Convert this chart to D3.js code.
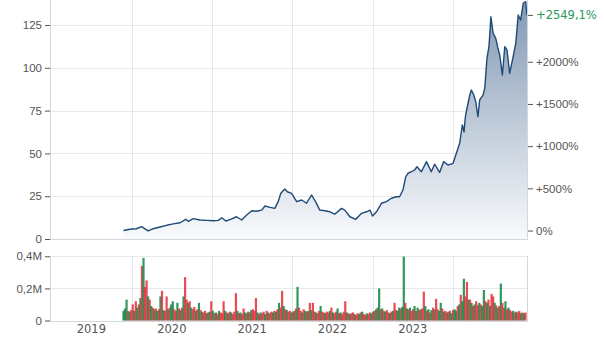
<!DOCTYPE html>
<html>
<head>
<style>
body {margin: 0; font-family: "DejaVu Sans", Verdana, sans-serif; background: #fff;}
text {font-size: 11.5px; fill: #555;}
</style>
<script src="https://cdnjs.cloudflare.com/ajax/libs/d3/7.8.5/d3.min.js"></script>
</head>
<body>
<div id="chart"></div>
<script>
    // price (EUR)
    const dates = ["2019-11-25","2019-12-24","2020-01-23","2020-02-15","2020-03-16","2020-04-08","2020-05-09","2020-06-08",
        "2020-07-08","2020-08-08","2020-09-03","2020-09-15","2020-10-07","2020-11-07","2020-12-07","2021-01-06",
        "2021-01-29","2021-02-14","2021-03-04","2021-03-23","2021-04-22","2021-05-15","2021-06-07","2021-06-30",
        "2021-07-22","2021-08-14","2021-08-29","2021-09-21","2021-10-13","2021-10-28","2021-11-09","2021-11-27",
        "2021-12-09","2021-12-28","2022-01-20","2022-02-12","2022-03-06","2022-03-29","2022-04-16","2022-05-05",
        "2022-05-28","2022-06-20","2022-07-12","2022-08-12","2022-08-27","2022-09-19","2022-10-16","2022-11-11",
        "2022-12-04","2022-12-19","2022-12-31","2023-01-18","2023-02-10","2023-03-04","2023-03-27","2023-04-18",
        "2023-05-03","2023-05-18","2023-05-31","2023-06-10","2023-06-26","2023-07-10","2023-07-21","2023-08-10",
        "2023-09-02","2023-09-24","2023-10-09","2023-11-01","2023-11-19","2023-12-09","2024-01-01","2024-01-16",
        "2024-01-31","2024-02-12","2024-02-20","2024-02-23","2024-02-27","2024-03-09","2024-03-17","2024-03-24",
        "2024-04-04","2024-04-13","2024-04-23","2024-05-01","2024-05-16","2024-05-24","2024-06-03","2024-06-12",
        "2024-06-21","2024-07-01","2024-07-13","2024-07-23","2024-07-31","2024-08-12","2024-08-23","2024-09-02",
        "2024-09-14","2024-09-27","2024-10-12","2024-10-23","2024-11-03","2024-11-15","2024-11-26","2024-12-02"];
    const prices = [4.93, 5.7, 6.0, 7.2, 4.7, 6.0, 7.0, 8.0,
        8.8, 9.5, 11.5, 10.3, 11.9, 11.1, 10.9, 10.7,
        10.9, 12.4, 10.5, 11.3, 13.0, 11.1, 14.0, 16.5,
        16.2, 16.9, 19.3, 18.5, 17.9, 21.8, 26.7, 29.2,
        27.6, 26.7, 21.8, 22.8, 20.9, 25.7, 21.8, 16.9,
        16.5, 15.9, 14.5, 17.9, 16.9, 13.0, 11.5, 15.0,
        15.9, 16.9, 13.4, 15.9, 20.9, 21.8, 23.8, 24.7,
        24.7, 28.6, 36.4, 38.4, 39.3, 40.3, 42.2, 39.3,
        45.2, 39.3, 43.7, 38.9, 45.2, 43.2, 44.2, 50.1,
        55.9, 66.6, 62.5, 67.6, 72.4, 79.3, 84.1, 87.0,
        84.1, 80.2, 71.4, 81.2, 84.1, 88.0, 105.5, 112.3,
        129.8, 120.2, 117.2, 111.4, 107.5, 95.8, 112.3, 110.4,
        96.8, 104.6, 114.3, 130.8, 127.9, 137.7, 138.6, 130.6];

    // weekly volume in thousands, starting week of 2019-11-25
    const volStart = "2019-11-25";
    const volumes = [
        60, 75, 130, 60, 55, 65, 100, 60, 120, 80,
        100, 140, 340, 390, 210, 250, 150, 130, 90, 80,
        70, 75, 60, 70, 150, 185, 65, 60, 150, 70,
        80, 100, 120, 70, 60, 110, 75, 65, 80, 150,
        270, 130, 110, 120, 80, 70, 85, 60, 70, 110,
        65, 55, 50, 60, 45, 50, 55, 120, 60, 45,
        50, 40, 60, 50, 45, 120, 60, 50, 45, 55,
        50, 40, 55, 170, 60, 45, 50, 40, 75, 50,
        45, 55, 50, 65, 70, 60, 140, 50, 40, 50,
        45, 55, 40, 60, 50, 45, 55, 50, 60, 55,
        70, 110, 80, 185, 90, 70, 65, 55, 60, 50,
        55, 60, 75, 210, 80, 60, 50, 70, 60, 55,
        60, 110, 65, 110, 55, 50, 45, 60, 90, 55,
        50, 45, 55, 50, 60, 80, 50, 45, 55, 75,
        45, 50, 40, 55, 120, 50, 45, 40, 45, 50,
        40, 35, 45, 40, 50, 55, 40, 35, 45, 40,
        50, 45, 55, 60, 70, 80, 200, 70, 75, 60,
        55, 65, 50, 45, 55, 60, 110, 65, 60, 80,
        75, 85, 398, 110, 75, 70, 80, 60, 70, 90,
        60, 80, 65, 70, 75, 180, 90, 60, 70, 50,
        65, 80, 70, 135, 70, 60, 110, 75, 55, 60,
        50, 55, 60, 45, 65, 70, 60, 90, 100, 160,
        120, 260, 150, 240, 130, 130, 110, 90, 100, 120,
        95, 110, 100, 90, 190, 120, 110, 130, 90, 165,
        150, 110, 95, 80, 90, 230, 110, 80, 120, 70,
        80, 65, 55, 60, 50, 55, 50, 60, 45, 50, 45, 50];
    // g = up week, r = down week
    const volDir = "gggrgrrgrg" + "rgrgrrgrgr" + "grgrgrgrrg" + "rggrrgrgrg" + "rrgrgrrgrg" +
        "rgrrgrgrgr" + "grgrrrgrgr" + "grrrgrgrrg" + "rgrgrrrgrg" + "rrgrgrrgrg" +
        "rgrrgrgrrg" + "rgrgrrgrgr" + "grgrrgrrgr" + "rgrrgrgrrg" + "rgrrrgrgrr" +
        "grrgrgrrgr" + "rgrgrggrgr" + "grrgrgrrgg" + "rggrgrgrrg" + "rgrgrrgrgr" +
        "grgrrggrgr" + "rgrgrggrgr" + "ggrrgrgrgr" + "rgrggrgrgr" + "rgrgrgrrgr" + "grrgrgrrgrgr";

    const priceTicks = [0, 25, 50, 75, 100, 125];
    const pctTicks = [0, 500, 1000, 1500, 2000];
    const volTicks = [0, 200, 400];
    const yearLabels = [2019, 2020, 2021, 2022, 2023];
    const yearLines = [2020, 2021, 2022, 2023, 2024];

    const width = 604, height = 344;
    const left = 50, right = 527;
    const priceBottom = 239, volTop = 256.3, volBottom = 320.5;
    const gridColor = "#e6e8ec", axisColor = "#d3d8e0";

    const parse = d3.timeParse("%Y-%m-%d");
    const priceData = dates.map((d, i) => ({date: parse(d), value: prices[i]}));
    const volData = volumes.map((v, i) => ({
        date: d3.timeWeek.offset(parse(volStart), i), value: v, up: volDir[i] === "g"
    }));

    const x = d3.scaleTime()
        .domain([new Date(2018, 11, 26), new Date(2024, 11, 2)])
        .range([left, right]);
    const y = d3.scaleLinear().domain([0, 139.6]).range([priceBottom, 0]);
    const yv = d3.scaleLinear().domain([0, 400]).range([volBottom, volTop]);

    const svg = d3.select("#chart").append("svg")
        .attr("width", width)
        .attr("height", height);

    const grad = svg.append("defs").append("linearGradient")
        .attr("id", "fill")
        .attr("gradientUnits", "userSpaceOnUse")
        .attr("x1", 0).attr("y1", 0).attr("x2", 0).attr("y2", priceBottom);
    grad.append("stop").attr("offset", "0%").attr("stop-color", "#8198b3");
    grad.append("stop").attr("offset", "100%").attr("stop-color", "#f9fafc");

    // grid lines
    const grid = svg.append("g").attr("stroke", gridColor).attr("shape-rendering", "crispEdges");
    grid.selectAll(".hp").data(priceTicks.slice(1)).join("line")
        .attr("x1", left).attr("x2", right)
        .attr("y1", d => Math.round(y(d)) + 0.5).attr("y2", d => Math.round(y(d)) + 0.5);
    grid.selectAll(".hv").data(volTicks.slice(1)).join("line")
        .attr("x1", left).attr("x2", right)
        .attr("y1", d => Math.round(yv(d)) + 0.5).attr("y2", d => Math.round(yv(d)) + 0.5);
    yearLines.forEach(yr => {
        const xx = Math.round(x(new Date(yr, 0, 1))) + 0.5;
        grid.append("line").attr("x1", xx).attr("x2", xx).attr("y1", 0).attr("y2", priceBottom);
        grid.append("line").attr("x1", xx).attr("x2", xx).attr("y1", volTop).attr("y2", volBottom);
    });

    // price area + line
    const area = d3.area().x(d => x(d.date)).y0(priceBottom).y1(d => y(d.value));
    const line = d3.line().x(d => x(d.date)).y(d => y(d.value));
    svg.append("path").datum(priceData).attr("d", area).attr("fill", "url(#fill)");
    svg.append("path").datum(priceData).attr("d", line)
        .attr("fill", "none").attr("stroke", "#1f4a76").attr("stroke-width", 1.4)
        .attr("stroke-linejoin", "round");

    // volume bars
    svg.append("g").selectAll("rect").data(volData).join("rect")
        .attr("x", d => x(d.date) - 1.1)
        .attr("width", 2.2)
        .attr("y", d => yv(d.value))
        .attr("height", d => yv(0) - yv(d.value))
        .attr("fill", d => d.up ? "#138a48" : "#e5333f")
        .attr("fill-opacity", 0.88);

    // frames
    const frame = svg.append("g").attr("stroke", axisColor).attr("fill", "none").attr("shape-rendering", "crispEdges");
    frame.append("path").attr("d", `M${left + 0.5},0V${priceBottom + 0.5}H${right + 0.5}V0`);
    frame.append("path").attr("d", `M${left + 0.5},${volTop}V${volBottom + 0.5}H${right + 0.5}V${volTop}`);

    // left price axis
    const fmt = d3.formatLocale({decimal: ",", thousands: ".", grouping: [3], currency: ["", "€"]});
    const axisL = svg.append("g").attr("transform", `translate(${left},0)`)
        .call(d3.axisLeft(y).tickValues(priceTicks).tickSize(5).tickPadding(3));
    const axisV = svg.append("g").attr("transform", `translate(${left},0)`)
        .call(d3.axisLeft(yv).tickValues(volTicks).tickSize(5).tickPadding(3)
            .tickFormat(d => d === 0 ? "0" : fmt.format(".1f")(d / 1000) + "M"));

    // right percent axis
    const base = prices[0];
    const last = prices[prices.length - 1];
    const pctScale = d3.scaleLinear().domain([-100, 0]).range([y(0), y(base)]);
    const axisR = svg.append("g").attr("transform", `translate(${right + 1},0)`)
        .call(d3.axisRight(pctScale).tickValues(pctTicks).tickSize(5).tickPadding(3)
            .tickFormat(d => d === 0 ? "0%" : "+" + d + "%"));
    const lastPct = (last / base - 1) * 100;
    const lastTick = svg.append("g").attr("transform", `translate(${right + 1},${y(last)})`);
    lastTick.append("line").attr("x2", 5).attr("stroke", "#555");
    lastTick.append("text").attr("x", 8).attr("dy", "0.32em")
        .style("fill", "#24995a")
        .text("+" + fmt.format(".1f")(lastPct) + "%");

    [axisL, axisV, axisR].forEach(a => {
        a.select(".domain").remove();
        a.selectAll(".tick line").attr("stroke", "#555");
        a.selectAll("text").attr("fill", null);
    });

    // year labels, mid-year
    svg.append("g").selectAll("text").data(yearLabels).join("text")
        .attr("x", d => x(new Date(d, 6, 2)))
        .attr("y", 333)
        .attr("text-anchor", "middle")
        .text(d => d);
</script>
</body>
</html>
